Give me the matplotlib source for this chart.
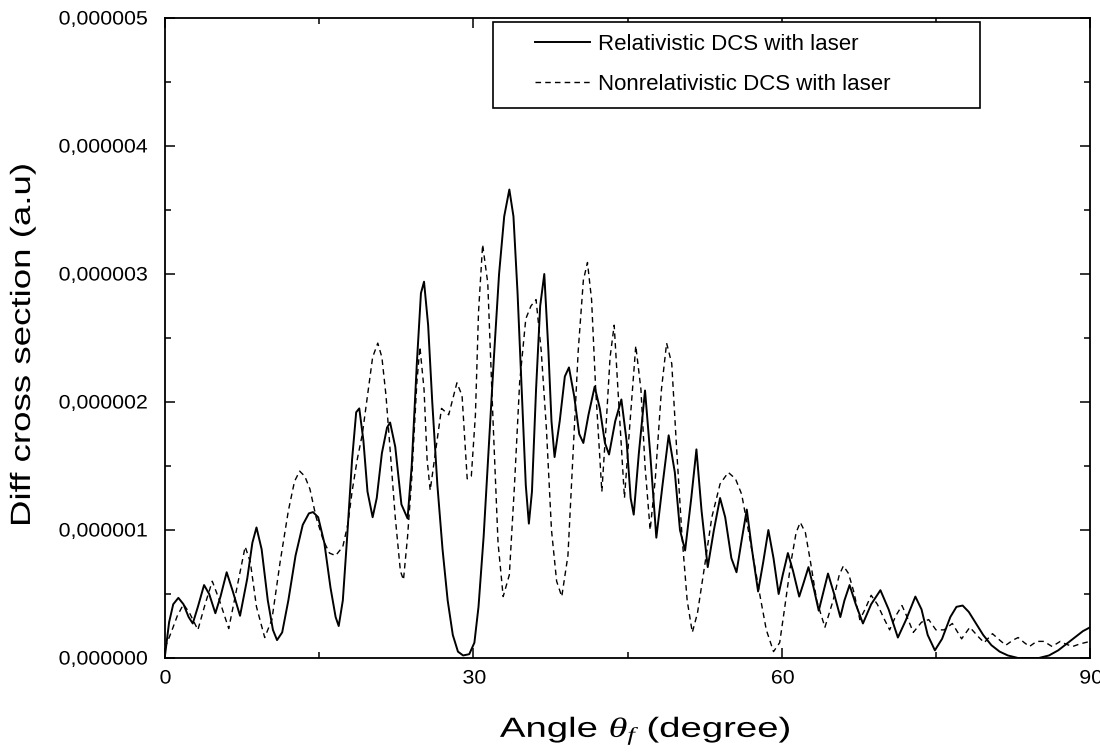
import numpy as np
import matplotlib
matplotlib.use("Agg")
import matplotlib.pyplot as plt
from matplotlib.ticker import MultipleLocator, FuncFormatter
from matplotlib.patches import Rectangle
from matplotlib.patheffects import AbstractPathEffect
from matplotlib.transforms import Affine2D

plt.rcParams['font.family'] = ['Liberation Sans', 'DejaVu Sans']
plt.rcParams['mathtext.fontset'] = 'custom'
plt.rcParams['mathtext.it'] = 'Liberation Serif:italic'

# relativistic DCS with laser (units of 1e-6 a.u.)
rel_angle = [0.0, 0.4, 0.8, 1.3, 1.8, 2.3, 2.7, 3.2, 3.8, 4.3, 4.9, 5.4, 6.0, 6.6, 7.3,
             8.0, 8.5, 8.9, 9.4, 10.0, 10.5, 10.9, 11.4, 12.0, 12.7, 13.4, 14.0, 14.4,
             14.9, 15.5, 16.1, 16.6, 16.9, 17.3, 17.7, 18.2, 18.6, 18.9, 19.3, 19.7,
             20.2, 20.6, 21.1, 21.6, 21.9, 22.4, 23.0, 23.6, 24.0, 24.5, 24.9, 25.2,
             25.6, 26.0, 26.5, 27.0, 27.5, 28.0, 28.5, 29.0, 29.6, 30.1, 30.5, 31.0,
             31.5, 32.0, 32.5, 33.0, 33.5, 33.9, 34.3, 34.8, 35.1, 35.4, 35.7, 36.1,
             36.5, 36.9, 37.3, 37.6, 37.9, 38.4, 38.9, 39.3, 39.8, 40.3, 40.7, 41.2,
             41.8, 42.3, 42.8, 43.2, 43.8, 44.4, 44.9, 45.3, 45.6, 46.1, 46.7, 47.2,
             47.8, 48.4, 49.0, 49.6, 50.1, 50.6, 51.2, 51.7, 52.2, 52.8, 53.4, 54.0,
             54.5, 55.1, 55.6, 56.1, 56.6, 57.1, 57.7, 58.2, 58.7, 59.2, 59.7, 60.1,
             60.6, 61.1, 61.7, 62.1, 62.6, 63.1, 63.6, 64.0, 64.5, 65.1, 65.7, 66.1,
             66.6, 67.2, 67.9, 68.7, 69.6, 70.4, 71.3, 72.1, 73.0, 73.6, 74.2, 74.9,
             75.6, 76.4, 77.0, 77.6, 78.2, 78.9, 79.6, 80.4, 81.2, 82.0, 83.0, 84.0,
             85.0, 86.0, 86.9, 87.7, 88.5, 89.3, 90.0]
rel_dcs = [0.02, 0.28, 0.42, 0.47, 0.42, 0.32, 0.27, 0.40, 0.57, 0.50, 0.35, 0.48, 0.67,
           0.52, 0.33, 0.62, 0.90, 1.02, 0.85, 0.45, 0.22, 0.14, 0.20, 0.45, 0.80, 1.04,
           1.13, 1.14, 1.10, 0.90, 0.55, 0.32, 0.25, 0.45, 0.92, 1.55, 1.92, 1.95, 1.70,
           1.30, 1.10, 1.25, 1.60, 1.80, 1.84, 1.65, 1.20, 1.09, 1.50, 2.30, 2.85, 2.94,
           2.60, 2.00, 1.35, 0.85, 0.45, 0.18, 0.05, 0.02, 0.03, 0.12, 0.40, 0.95, 1.65,
           2.35, 3.00, 3.45, 3.66, 3.45, 2.85, 1.90, 1.35, 1.05, 1.30, 2.10, 2.75, 3.00,
           2.40, 1.85, 1.57, 1.85, 2.20, 2.27, 2.05, 1.75, 1.68, 1.90, 2.12, 1.95, 1.68,
           1.59, 1.85, 2.02, 1.70, 1.25, 1.12, 1.60, 2.09, 1.60, 0.94, 1.35, 1.74, 1.45,
           1.00, 0.84, 1.25, 1.63, 1.15, 0.71, 1.00, 1.25, 1.10, 0.78, 0.67, 0.92, 1.16,
           0.85, 0.52, 0.75, 1.00, 0.78, 0.50, 0.65, 0.82, 0.68, 0.48, 0.58, 0.71, 0.55,
           0.37, 0.50, 0.66, 0.50, 0.32, 0.45, 0.57, 0.42, 0.27, 0.42, 0.53, 0.38, 0.16,
           0.30, 0.48, 0.38, 0.18, 0.06, 0.15, 0.32, 0.40, 0.41, 0.36, 0.27, 0.18, 0.10,
           0.05, 0.02, 0.00, 0.00, 0.00, 0.02, 0.06, 0.11, 0.16, 0.21, 0.24]

# nonrelativistic DCS with laser (units of 1e-6 a.u.)
nonrel_angle = [0.0, 0.6, 1.2, 1.8, 2.4, 3.2, 3.9, 4.6, 5.3, 6.2, 7.0, 7.8, 8.3, 8.9, 9.7,
                10.4, 11.2, 12.0, 12.6, 13.1, 13.6, 14.1, 14.7, 15.4, 16.0, 16.6, 17.3,
                17.8, 18.2, 18.7, 19.2, 19.7, 20.2, 20.7, 21.1, 21.5, 21.9, 22.4, 22.9,
                23.2, 23.6, 24.0, 24.5, 24.8, 25.2, 25.5, 25.8, 26.3, 26.9, 27.6, 28.4,
                28.9, 29.4, 29.8, 30.2, 30.5, 30.9, 31.4, 31.9, 32.4, 32.9, 33.5, 34.0,
                34.5, 35.1, 35.6, 36.1, 36.6, 37.1, 37.6, 38.1, 38.6, 39.2, 39.7, 40.2,
                40.7, 41.1, 41.5, 41.9, 42.5, 42.9, 43.3, 43.7, 44.1, 44.7, 45.2, 45.8,
                46.3, 46.7, 47.2, 47.7, 48.3, 48.8, 49.3, 49.8, 50.3, 50.8, 51.3, 51.8,
                52.5, 53.2, 54.0, 54.8, 55.5, 56.1, 56.7, 57.3, 57.9, 58.5, 59.2, 59.8,
                60.3, 60.9, 61.4, 61.8, 62.3, 62.8, 63.4, 64.2, 65.0, 65.6, 66.0, 66.5,
                67.0, 67.6, 68.1, 68.7, 69.3, 70.0, 70.5, 71.1, 71.7, 72.2, 72.8, 73.6,
                74.3, 75.0, 75.8, 76.6, 77.5, 78.3, 79.2, 79.7, 80.5, 81.2, 81.8, 82.5,
                83.0, 83.6, 84.1, 84.8, 85.5, 86.3, 87.1, 87.6, 88.3, 89.0, 90.0]
nonrel_dcs = [0.08, 0.20, 0.33, 0.42, 0.35, 0.22, 0.42, 0.60, 0.45, 0.23, 0.55, 0.87, 0.75,
              0.40, 0.16, 0.30, 0.75, 1.15, 1.38, 1.46, 1.42, 1.32, 1.10, 0.92, 0.82, 0.80,
              0.87, 1.05, 1.30, 1.55, 1.75, 2.05, 2.35, 2.46, 2.35, 2.05, 1.63, 1.10, 0.68,
              0.61, 0.95, 1.40, 2.15, 2.43, 2.10, 1.55, 1.31, 1.60, 1.95, 1.90, 2.15, 2.05,
              1.40, 1.42, 1.90, 2.70, 3.23, 2.93, 1.88, 0.90, 0.48, 0.65, 1.35, 2.15, 2.65,
              2.75, 2.80, 2.40, 1.80, 1.00, 0.60, 0.48, 0.80, 1.60, 2.40, 2.95, 3.09, 2.80,
              2.10, 1.30, 1.80, 2.35, 2.60, 2.05, 1.25, 1.80, 2.44, 2.10, 1.50, 1.00, 1.40,
              2.10, 2.46, 2.30, 1.60, 0.95, 0.45, 0.20, 0.35, 0.72, 1.10, 1.36, 1.45, 1.40,
              1.28, 1.02, 0.75, 0.48, 0.22, 0.05, 0.12, 0.40, 0.75, 0.98, 1.06, 0.98, 0.75,
              0.45, 0.24, 0.45, 0.65, 0.72, 0.66, 0.52, 0.30, 0.38, 0.49, 0.42, 0.30, 0.22,
              0.33, 0.41, 0.32, 0.20, 0.28, 0.30, 0.22, 0.22, 0.27, 0.15, 0.24, 0.16, 0.12,
              0.19, 0.14, 0.10, 0.14, 0.16, 0.12, 0.09, 0.13, 0.13, 0.09, 0.13, 0.11, 0.09,
              0.11, 0.13]

scale = 1e-6


class Stretch(AbstractPathEffect):
    """Widen glyphs along the text direction (the old Origin export looks wide)."""
    def __init__(self, sx):
        super().__init__()
        self.sx = sx

    def draw_path(self, renderer, gc, tpath, affine, rgbFace=None):
        renderer.draw_path(gc, tpath, Affine2D().scale(self.sx, 1) + affine, rgbFace)


fig = plt.figure(figsize=(11, 7.56), dpi=100)
ax = fig.add_axes([0.15, 0.1296, 0.841, 0.8466])

ax.plot(rel_angle, np.array(rel_dcs) * scale, color='black', lw=1.4, ls='-',
        label='Relativistic DCS with laser')
ax.plot(nonrel_angle, np.array(nonrel_dcs) * scale, color='black', lw=1.0,
        ls=(0, (4, 3)), label='Nonrelativistic DCS with laser')

ax.set_xlim(0, 90)
ax.set_ylim(0, 5e-6)
ax.xaxis.set_major_locator(MultipleLocator(30))
ax.xaxis.set_minor_locator(MultipleLocator(15))
ax.yaxis.set_major_locator(MultipleLocator(1e-6))
ax.yaxis.set_minor_locator(MultipleLocator(0.5e-6))
ax.yaxis.set_major_formatter(FuncFormatter(lambda v, p: f"{v:.6f}".replace('.', ',')))

ax.tick_params(which='both', direction='in', top=True, right=True, width=1.1,
               labelsize=14)
ax.tick_params(axis='x', pad=9)
ax.tick_params(axis='y', pad=18)
ax.tick_params(which='major', length=7)
ax.tick_params(which='minor', length=4)
for s in ax.spines.values():
    s.set_linewidth(1.3)

for lbl in ax.get_yticklabels() + ax.get_xticklabels():
    lbl.set_path_effects([Stretch(1.1)])

ax.set_xlabel(r'Angle $\theta_f$ (degree)', fontsize=20, ha='left', va='baseline',
              rotation_mode='anchor', path_effects=[Stretch(1.38)])
ax.xaxis.set_label_coords(0.362, -0.1234)
ax.set_ylabel('Diff cross section (a.u)', fontsize=20, ha='left', va='baseline',
              rotation_mode='anchor', path_effects=[Stretch(1.32)])
ax.yaxis.set_label_coords(-0.146, 0.2047)

# legend: frame drawn separately, it is wider than its entries
ax.add_patch(Rectangle((0.3546, 0.8594), 0.5265, 0.1344, transform=ax.transAxes,
                       fill=True, facecolor='white', edgecolor='black', lw=1.2,
                       zorder=4))
leg = ax.legend(loc='center left', bbox_to_anchor=(0.4, 0.927), fontsize=16,
                frameon=False, handlelength=2.47, handletextpad=0.36,
                labelspacing=0.86, borderpad=0, borderaxespad=0)
leg.set_zorder(5)

fig.savefig('out.png', dpi=100)
